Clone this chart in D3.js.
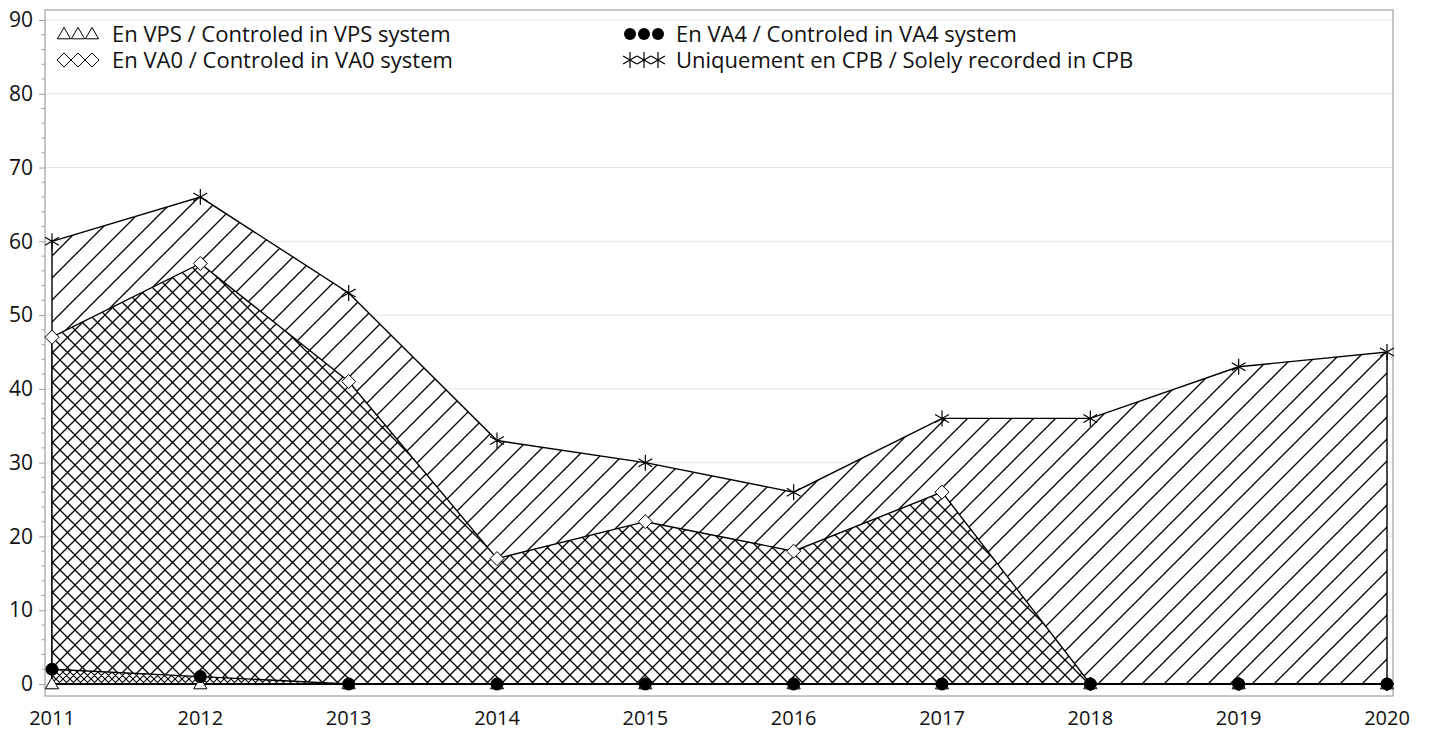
<!DOCTYPE html>
<html><head><meta charset="utf-8">
<script src="https://cdn.jsdelivr.net/npm/d3@7"></script>
<style>body{margin:0;background:#fff}svg{display:block;font-family:"Open Sans",sans-serif}</style>
</head><body><svg id="c" width="1429" height="731"></svg>
<script>
const years = [2011,2012,2013,2014,2015,2016,2017,2018,2019,2020];
const vps = [0,0,0,0,0,0,0,0,0,0];
const va4 = [2,1,0,0,0,0,0,0,0,0];
const va0 = [47,57,41,17,22,18,26,0,0,0];
const cpb = [60,66,53,33,30,26,36,36,43,45];
const yTicks = [0,10,20,30,40,50,60,70,80,90];
const legendLabels = ["En VPS / Controled in VPS system","En VA4 / Controled in VA4 system","En VA0 / Controled in VA0 system","Uniquement en CPB / Solely recorded in CPB"];

const svg = d3.select("#c");
const x = d3.scaleLinear().domain([2011,2020]).range([52,1387]);
const y = d3.scaleLinear().domain([0,90]).range([684,20]);
const frame = {l:45, t:10, r:1393, b:696};

const defs = svg.append("defs");
function pat(id, P, slash, back, sw){
  const p = defs.append("pattern").attr("id",id).attr("patternUnits","userSpaceOnUse")
    .attr("width",P).attr("height",P);
  p.append("rect").attr("width",P).attr("height",P).attr("fill","#fff");
  let d = "";
  if(slash) d += `M-2,${P+2}L${P+2},-2M-2,2L2,-2M${P-2},${P+2}L${P+2},${P-2}`;
  if(back) d += `M-2,-2L${P+2},${P+2}M${P-2},-2L${P+2},2M-2,${P-2}L2,${P+2}`;
  p.append("path").attr("d",d).attr("stroke","#000").attr("stroke-width",sw).attr("fill","none");
}
pat("hDiag",22,true,false,1.3);
pat("hCross",15,true,true,1.3);
pat("hFine",7,true,true,1.1);

// gridlines
svg.append("g").selectAll("line").data(yTicks).join("line")
  .attr("x1",frame.l).attr("x2",frame.r).attr("y1",d=>y(d)).attr("y2",d=>y(d))
  .attr("stroke","#e4e4e4").attr("stroke-width",1);

// frame
svg.append("rect").attr("x",frame.l).attr("y",frame.t).attr("width",frame.r-frame.l).attr("height",frame.b-frame.t)
  .attr("fill","none").attr("stroke","#a0a0a0").attr("stroke-width",1.2);

// y axis ticks
const yAxis = d3.axisLeft(y).tickValues(yTicks).tickSize(6).tickPadding(6).tickFormat(d3.format("d"));
const ga = svg.append("g").attr("transform",`translate(${frame.l},0)`).call(yAxis);
ga.select(".domain").remove();
ga.selectAll(".tick line").attr("stroke","#a0a0a0");
ga.selectAll(".tick text").attr("font-size",21).attr("fill","#111").attr("font-family","Open Sans, sans-serif");
const minor = d3.range(0,91,2).filter(v=>v%10!==0);
svg.append("g").selectAll("line").data(minor).join("line")
  .attr("x1",frame.l-3.5).attr("x2",frame.l).attr("y1",d=>y(d)).attr("y2",d=>y(d)).attr("stroke","#a0a0a0");

// x labels
svg.append("g").selectAll("text").data(years).join("text")
  .attr("x",d=>x(d)).attr("y",725).attr("text-anchor","middle").attr("font-size",20).attr("fill","#111").text(d=>d);

function area(vals, fill){
  const a = d3.area().x((d,i)=>x(years[i])).y0(y(0)).y1(d=>y(d));
  svg.append("path").datum(vals).attr("d",a).attr("fill",`url(#${fill})`).attr("stroke","#000").attr("stroke-width",1.4).attr("stroke-linejoin","miter");
}
area(cpb,"hDiag");
area(va0,"hCross");
area(va4,"hFine");
area(vps,"hFine");

// markers
const symT = d3.symbol().type(d3.symbolTriangle).size(75)();
function starPath(r){
  let s="";
  for(let k=0;k<3;k++){const a=Math.PI/2+k*Math.PI/3;const dx=r*Math.cos(a),dy=r*Math.sin(a);s+=`M${-dx},${-dy}L${dx},${dy}`;}
  return s;
}
function drawMarker(g, kind){
  if(kind==="tri") g.append("path").attr("d",symT).attr("transform","translate(0,1)").attr("fill","#fff").attr("stroke","#000").attr("stroke-width",1);
  if(kind==="dia") g.append("path").attr("d","M0,-7L7,0L0,7L-7,0Z").attr("fill","#fff").attr("stroke","#000").attr("stroke-width",1);
  if(kind==="dot") g.append("circle").attr("r",6.5).attr("fill","#000");
  if(kind==="star") g.append("path").attr("d",starPath(8)).attr("stroke","#000").attr("stroke-width",1.2).attr("fill","none");
}
function markers(vals, kind){
  svg.append("g").selectAll("g").data(vals).join("g")
    .attr("transform",(d,i)=>`translate(${x(years[i])},${y(d)})`)
    .each(function(){drawMarker(d3.select(this),kind);});
}
markers(cpb,"star");
markers(va0,"dia");
markers(vps,"tri");
markers(va4,"dot");

// legend
const leg = [
  {kind:"tri", label:legendLabels[0], x:64, y:34, tx:112},
  {kind:"dot", label:legendLabels[1], x:630, y:34, tx:676},
  {kind:"dia", label:legendLabels[2], x:64, y:60, tx:112},
  {kind:"star", label:legendLabels[3], x:630, y:60, tx:676}
];
leg.forEach(L=>{
  for(let k=0;k<3;k++){
    const g = svg.append("g").attr("transform",`translate(${L.x+k*14},${L.y})`);
    if(L.kind==="dot"){g.append("circle").attr("r",6).attr("fill","#000");}
    else drawMarker(g,L.kind);
  }
  svg.append("text").attr("x",L.tx).attr("y",L.y+8).attr("font-size",22).attr("fill","#111").text(L.label);
});
</script></body></html>
